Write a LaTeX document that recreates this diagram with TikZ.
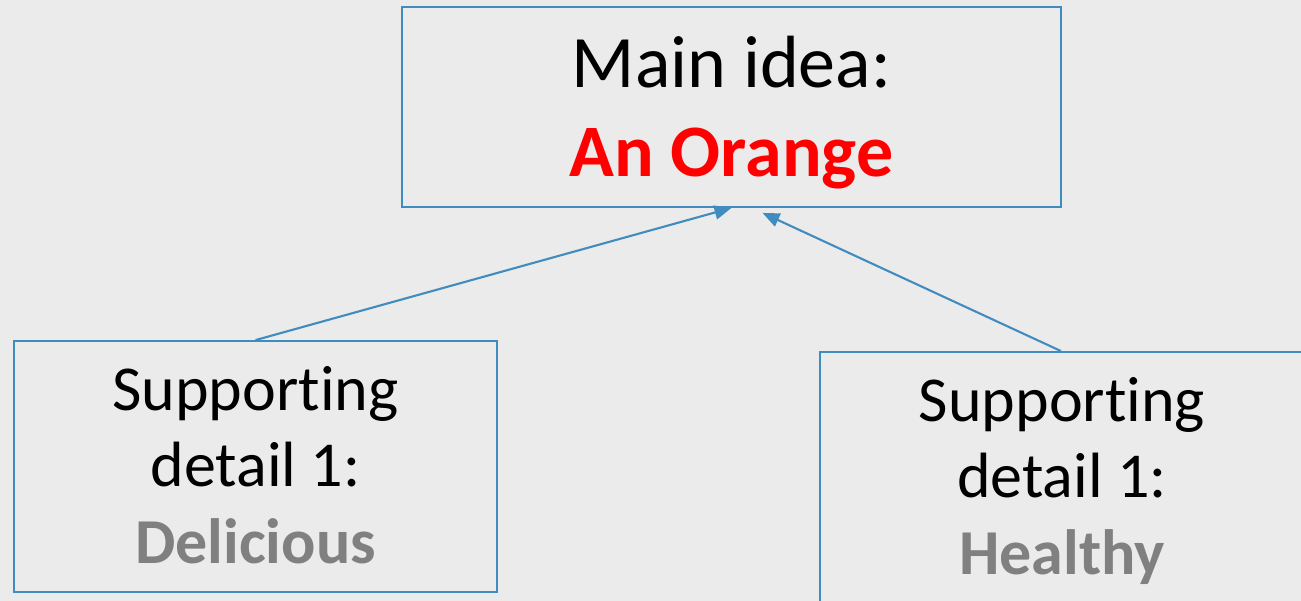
\documentclass[tikz,border=0pt]{standalone}
\usepackage{fontspec}
\setmainfont[Ligatures=NoCommon]{Carlito}
\usetikzlibrary{arrows.meta,calc}
\definecolor{bg}{RGB}{235,235,235}
\definecolor{edge}{RGB}{65,140,190}
\definecolor{detailgray}{RGB}{128,128,128}
\begin{document}
\begin{tikzpicture}[x=1pt,y=-1pt,
  box/.style={draw=edge, line width=1.8pt, rectangle, inner sep=0pt},
  bigtxt/.style={font=\fontsize{74}{88}\selectfont, anchor=base, inner sep=0pt},
  smalltxt/.style={font=\fontsize{64}{77}\selectfont, anchor=base, inner sep=0pt},
  arr/.style={draw=edge, line width=2.1pt, -{Triangle[length=17pt,width=14pt]}}]
\fill[bg] (0,0) rectangle (1301,601);
\useasboundingbox (0,0) rectangle (1301,601);
\node[box, minimum width=659pt, minimum height=200pt] (main) at (731.5,107) {};
\node[box, minimum width=483pt, minimum height=251pt] (left) at (255.5,466.5) {};
\node[box, minimum width=482pt, minimum height=251pt] (right) at (1061,477.5) {};
\node[bigtxt] (m1) at (731.5,88) {Main idea:};
\node[bigtxt, text=red] (m2) at (731.5,177) {\bfseries An Orange};
\node[smalltxt] (l1) at (255.5,410) {Supporting};
\node[smalltxt] (l2) at (255.5,486) {detail 1:};
\node[smalltxt, text=detailgray] (l3) at (255.5,563) {\bfseries Delicious};
\node[smalltxt] (r1) at (1062,421) {Supporting};
\node[smalltxt] (r2) at (1062,497) {detail 1:};
\node[smalltxt, text=detailgray] (r3) at (1062,574) {\bfseries Healthy};
\coordinate (tip2) at ($(main.south)+(31,5)$);
\draw[arr] (left.north) -- (main.south);
\draw[arr] (right.north) -- (tip2);
\end{tikzpicture}
\end{document}
